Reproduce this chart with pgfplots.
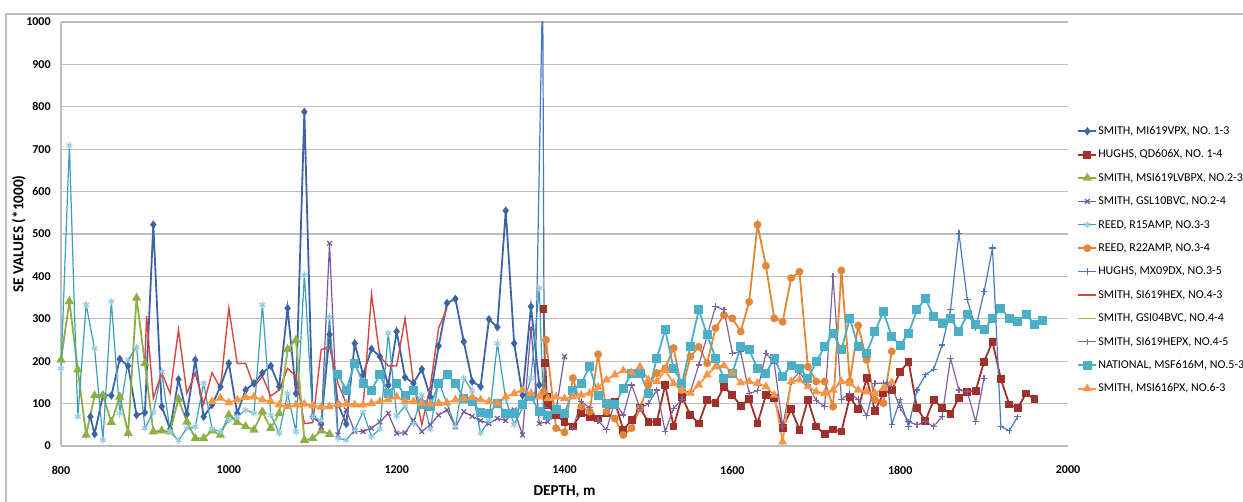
\documentclass[border=0pt]{standalone}
\usepackage{pgfplots}
\pgfplotsset{compat=1.18}
\usepackage{fontspec}
\setmainfont{Carlito}
\definecolor{cA}{RGB}{60,100,165}
\definecolor{cB}{RGB}{160,48,44}
\definecolor{cC}{RGB}{140,176,70}
\definecolor{cD}{RGB}{120,88,160}
\definecolor{cE}{RGB}{60,160,182}
\definecolor{cEm}{RGB}{150,205,230}
\definecolor{cF}{RGB}{225,135,55}
\definecolor{cG}{RGB}{72,122,190}
\definecolor{cH}{RGB}{215,70,65}
\definecolor{cI}{RGB}{155,187,89}
\definecolor{cJ}{RGB}{128,100,162}
\definecolor{cK}{RGB}{75,175,200}
\definecolor{cL}{RGB}{248,150,70}
\definecolor{gridc}{RGB}{190,190,190}
\begin{document}
\begin{tikzpicture}
\useasboundingbox (-30.5pt,-28pt) rectangle (591pt,223pt);
\begin{axis}[
  scale only axis, width=503.5pt, height=212pt,
  xmin=800, xmax=2000, ymin=0, ymax=1000,
  xtick={800,1000,...,2000}, ytick={0,100,...,1000},
  ymajorgrids, grid style={gridc, line width=0.6pt},
  axis x line*=bottom, axis y line*=left,
  axis line style={gridc, line width=0.7pt, -},
  major tick length=0pt,
  /pgf/number format/1000 sep={},
  /pgf/number format/assume math mode=true,
  ticklabel style={font=\fontsize{6}{7}\selectfont\bfseries, inner sep=0pt},
  xticklabel style={anchor=center, yshift=-12pt},
  yticklabel style={anchor=east, xshift=-5pt},
  xlabel={DEPTH, m}, ylabel={SE VALUES (*1000)},
  label style={font=\fontsize{7.6}{9}\selectfont\bfseries},
  xlabel style={at={(axis description cs:0.5,0)}, anchor=center, yshift=-23pt},
  ylabel style={at={(axis description cs:-0.0417,0.5)}, anchor=center},
  unbounded coords=jump,
  legend style={at={(1.009,0.757)}, anchor=north west, draw=none, fill=none,
    inner xsep=0pt, inner ysep=0pt,
    font=\fontsize{6}{7}\selectfont, row sep=5.9pt,
    nodes={inner sep=0pt, text height=4.5pt, text depth=1.3pt},
    /tikz/every odd column/.style={column sep=0.5pt}},
  legend cell align=left,
  legend image code/.code={\draw[mark repeat=2,mark phase=2,#1] plot coordinates {(0pt,0pt)(4.5pt,0pt)(9pt,0pt)};},
]
% 1 SMITH MI619VPX
\addplot[cA, line width=0.9pt, mark=diamond*, mark size=1.4pt] coordinates {
(835,69)(840,28)(850,120)(860,119)(870,205)(880,189)(890,73)(900,79)(910,522)(920,93)(930,40)(940,157)(950,75)(960,203)(970,69)(980,97)(990,140)(1000,195)(1010,77)(1020,132)(1030,148)(1040,172)(1050,189)(1060,140)(1070,325)(1080,124)(1090,788)(1100,69)(1110,52)(1120,263)(1130,100)(1140,52)(1150,242)(1160,168)(1170,229)(1180,211)(1190,144)(1200,270)(1210,162)(1220,148)(1230,181)(1240,116)(1250,236)(1260,337)(1270,347)(1280,246)(1290,152)(1300,140)(1310,299)(1320,280)(1330,555)(1340,242)(1350,120)(1360,329)(1370,144)};
\addlegendentry{SMITH, MI619VPX, NO. 1-3}
% 2 HUGHS QD606X
\addplot[cB, line width=0.9pt, mark=square*, mark size=1.5pt] coordinates {
(1375,323)(1377,195)(1379,116)(1380,97)(1390,73)(1400,57)(1410,46)(1420,77)(1430,69)(1440,65)(1450,77)(1460,105)(1470,38)(1480,61)(1490,89)(1500,57)(1510,57)(1520,144)(1530,46)(1540,116)(1550,73)(1560,53)(1570,109)(1580,101)(1590,140)(1600,120)(1610,95)(1620,111)(1630,53)(1640,120)(1650,113)(1660,42)(1670,87)(1680,38)(1690,109)(1700,46)(1710,28)(1720,39)(1730,34)(1740,115)(1750,87)(1760,160)(1770,83)(1780,124)(1790,132)(1800,175)(1810,199)(1820,90)(1830,59)(1840,109)(1850,90)(1860,75)(1870,114)(1880,128)(1890,130)(1900,199)(1910,246)(1920,158)(1930,98)(1940,89)(1950,124)(1960,110)};
\addlegendentry{HUGHS, QD606X, NO. 1-4}
% 3 SMITH MSI619LVBPX
\addplot[cC, line width=0.9pt, mark=triangle*, mark size=1.8pt] coordinates {
(800,203)(810,341)(820,180)(830,26)(840,119)(850,119)(860,56)(870,116)(880,30)(890,349)(900,195)(910,34)(920,36)(930,34)(940,111)(950,57)(960,18)(970,18)(980,36)(990,26)(1000,73)(1010,56)(1020,46)(1030,38)(1040,81)(1050,42)(1060,77)(1070,228)(1080,250)(1090,14)(1100,18)(1110,36)(1120,28)};
\addlegendentry{SMITH, MSI619LVBPX, NO.2-3}
% 4 SMITH GSL10BVC
\addplot[cD, line width=0.6pt, mark=x, mark size=1.7pt] coordinates {
(1110,45)(1120,478)(1130,26)(1140,85)(1150,34)(1160,34)(1170,42)(1180,57)(1190,77)(1200,30)(1210,31)(1220,61)(1230,34)(1240,50)(1250,73)(1260,85)(1270,45)(1280,81)(1290,70)(1300,60)(1310,53)(1320,65)(1330,60)(1340,85)(1350,26)(1360,278)(1370,53)(1380,57)(1390,85)(1400,211)};
\addlegendentry{SMITH, GSL10BVC, NO.2-4}
% 5 REED R15AMP
\addplot[cE, line width=0.6pt, mark=asterisk, mark size=1.7pt, mark options={cEm}] coordinates {
(800,183)(810,709)(820,69)(830,333)(840,230)(850,14)(860,341)(870,77)(880,203)(890,233)(900,42)(910,80)(920,175)(930,34)(940,13)(950,42)(960,45)(970,148)(980,40)(990,34)(1000,61)(1010,69)(1020,85)(1030,77)(1040,333)(1050,73)(1060,30)(1070,124)(1080,34)(1090,404)(1100,69)(1110,60)(1120,305)(1130,18)(1140,14)(1150,38)(1160,80)(1170,22)(1180,40)(1190,266)(1200,71)(1210,94)(1220,53)(1230,120)(1240,40)(1250,152)(1260,100)(1270,46)(1280,160)(1290,130)(1300,30)(1310,60)(1320,242)(1330,110)(1340,50)(1350,90)(1360,160)(1370,372)(1375,80)};
\addlegendentry{REED, R15AMP, NO.3-3}
% 6 REED R22AMP
\addplot[cF, line width=0.9pt, mark=*, mark size=1.5pt] coordinates {
(1375,128)(1378,250)(1390,42)(1400,32)(1410,160)(1420,93)(1430,81)(1440,216)(1450,81)(1460,65)(1470,26)(1480,42)(1490,89)(1500,144)(1510,172)(1520,183)(1530,231)(1540,132)(1550,211)(1560,234)(1570,195)(1580,278)(1590,309)(1600,301)(1610,270)(1620,340)(1630,522)(1640,425)(1650,301)(1660,293)(1670,396)(1680,411)(1690,187)(1700,152)(1710,152)(1720,93)(1730,414)(1740,152)(1750,284)(1760,203)(1770,109)(1780,101)(1790,223)};
\addlegendentry{REED, R22AMP, NO.3-4}
% 7 HUGHS MX09DX
\addplot[cG, line width=0.6pt, mark=+, mark size=1.6pt] coordinates {
(1365,120)(1374,1100)(1376,90)(1380,nan)(1785,150)(1790,50)(1800,109)(1810,46)(1820,132)(1830,168)(1840,181)(1850,238)(1860,321)(1870,502)(1880,345)(1890,278)(1900,364)(1910,467)(1920,46)(1930,36)(1940,69)};
\addlegendentry{HUGHS, MX09DX, NO.3-5}
% 8 SMITH SI619HEX
\addplot[cH, line width=0.7pt] coordinates {
(900,195)(902,307)(910,112)(920,173)(930,124)(940,274)(950,124)(960,172)(970,99)(980,173)(990,136)(1000,325)(1010,195)(1020,195)(1030,140)(1040,164)(1050,118)(1060,132)(1070,183)(1080,165)(1090,53)(1100,55)(1110,227)(1120,234)(1130,148)(1140,100)(1150,95)(1160,93)(1170,358)(1180,211)(1190,189)(1200,189)(1210,301)(1220,150)(1230,50)(1240,140)(1250,278)(1260,325)};
\addlegendentry{SMITH, SI619HEX, NO.4-3}
% 9 SMITH GSI04BVC
\addplot[cI, line width=0.7pt] coordinates {
(1040,80)(1050,42)(1060,77)(1070,228)(1080,250)(1090,14)};
\addlegendentry{SMITH, GSI04BVC, NO.4-4}
% 10 SMITH SI619HEPX
\addplot[cJ, line width=0.6pt, mark=+, mark size=1.6pt] coordinates {
(1410,42)(1420,105)(1430,90)(1440,60)(1450,38)(1460,105)(1470,73)(1480,144)(1490,89)(1500,100)(1510,132)(1520,34)(1530,89)(1540,110)(1550,128)(1560,191)(1570,260)(1580,329)(1590,321)(1600,219)(1610,222)(1620,124)(1630,130)(1640,219)(1650,195)(1660,46)(1670,152)(1680,175)(1690,144)(1700,107)(1710,93)(1720,400)(1730,110)(1740,124)(1750,110)(1760,71)(1770,148)(1780,148)(1790,140)(1800,90)(1810,57)(1820,50)(1830,57)(1840,46)(1850,70)(1860,207)(1870,132)(1880,128)(1890,57)(1900,160)};
\addlegendentry{SMITH, SI619HEPX, NO.4-5}
% 11 NATIONAL MSF616M
\addplot[cK, line width=0.9pt, mark=square*, mark size=1.8pt] coordinates {
(1130,168)(1140,132)(1150,195)(1160,148)(1170,132)(1180,168)(1190,123)(1200,148)(1210,120)(1220,132)(1230,97)(1240,93)(1250,148)(1260,168)(1270,148)(1280,113)(1290,105)(1300,79)(1310,77)(1320,101)(1330,77)(1340,77)(1350,97)(1360,116)(1370,81)(1380,73)(1390,85)(1400,77)(1410,132)(1420,148)(1430,187)(1440,120)(1450,101)(1460,97)(1470,136)(1480,172)(1490,172)(1500,124)(1510,207)(1520,274)(1530,183)(1540,148)(1550,234)(1560,321)(1570,262)(1580,207)(1590,160)(1600,172)(1610,234)(1620,227)(1630,183)(1640,172)(1650,207)(1660,163)(1670,191)(1680,183)(1690,160)(1700,199)(1710,234)(1720,266)(1730,227)(1740,301)(1750,234)(1760,219)(1770,270)(1780,317)(1790,258)(1800,238)(1810,266)(1820,321)(1830,348)(1840,305)(1850,290)(1860,301)(1870,270)(1880,309)(1890,286)(1900,274)(1910,301)(1920,325)(1930,301)(1940,293)(1950,311)(1960,286)(1970,297)};
\addlegendentry{NATIONAL, MSF616M, NO.5-3}
% 12 SMITH MSI616PX
\addplot[cL, line width=0.9pt, mark=triangle*, mark size=1.7pt] coordinates {
(980,105)(990,113)(1000,102)(1010,109)(1020,115)(1030,116)(1040,109)(1050,105)(1060,97)(1070,93)(1080,97)(1090,99)(1100,95)(1110,92)(1120,93)(1130,98)(1140,99)(1150,97)(1160,97)(1170,101)(1180,105)(1190,109)(1200,116)(1210,105)(1220,105)(1230,101)(1240,99)(1250,101)(1260,102)(1270,109)(1280,112)(1290,115)(1300,109)(1310,105)(1320,101)(1330,116)(1340,124)(1350,132)(1360,124)(1370,116)(1380,112)(1390,116)(1400,112)(1410,116)(1420,120)(1430,125)(1440,138)(1450,156)(1460,168)(1470,178)(1480,173)(1490,187)(1500,156)(1510,152)(1520,179)(1530,148)(1540,131)(1550,125)(1560,144)(1570,168)(1580,187)(1590,190)(1600,172)(1610,149)(1620,152)(1630,148)(1640,140)(1650,120)(1660,10)(1670,152)(1680,156)(1690,140)(1700,128)(1710,124)(1720,132)(1730,152)(1740,148)(1750,132)(1760,128)(1770,124)(1780,136)(1790,150)};
\addlegendentry{SMITH, MSI616PX, NO.6-3}
\end{axis}
\draw[gridc, line width=1pt] (-27.5pt,-40pt) -- (-27.5pt,216pt) -- (600pt,216pt);
\end{tikzpicture}
\end{document}
